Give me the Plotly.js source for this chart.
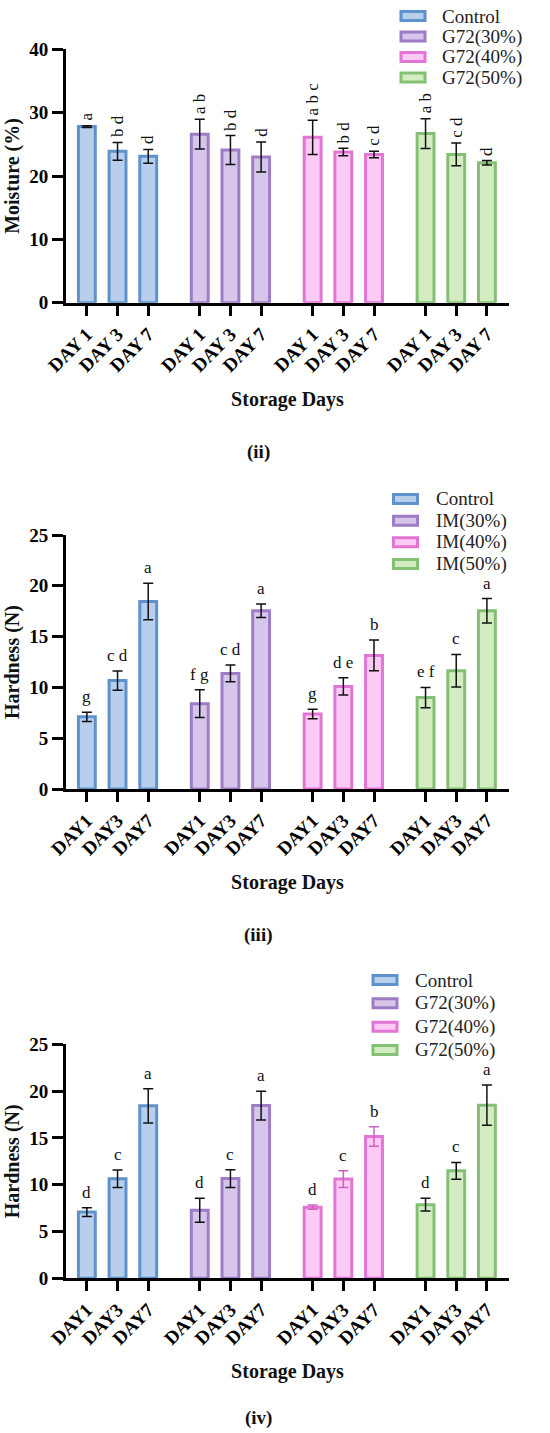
<!DOCTYPE html>
<html>
<head>
<meta charset="utf-8">
<script src="https://cdn.plot.ly/plotly-3.0.1.min.js"></script>
<style>html,body{margin:0;padding:0;background:#fff;}#chart{width:550px;height:1433px;}</style>
</head>
<body>
<div id="chart"></div>
<script>
// ---------- data ----------
const daysTop = ['DAY 1', 'DAY 3', 'DAY 7'];
const daysHard = ['DAY1', 'DAY3', 'DAY7'];

const groupsG72 = ['Control', 'G72(30%)', 'G72(40%)', 'G72(50%)'];
const groupsIM = ['Control', 'IM(30%)', 'IM(40%)', 'IM(50%)'];

// (ii) Moisture (%)
const moistMean = [[27.8, 23.9, 23.1], [26.6, 24.1, 23.0], [26.1, 23.8, 23.4], [26.7, 23.4, 22.1]];
const moistSD = [[0.15, 1.4, 1.1], [2.35, 2.3, 2.35], [2.7, 0.6, 0.5], [2.35, 1.8, 0.35]];
const moistLetters = [['a', 'b d', 'd'], ['a b', 'b d', 'd'], ['a b c', 'b d', 'c d'], ['a b', 'c d', 'd']];

// (iii) Hardness (N), IM
const hardIMMean = [[7.1, 10.67, 18.45], [8.4, 11.38, 17.55], [7.38, 10.1, 13.15], [9.0, 11.65, 17.55]];
const hardIMSD = [[0.45, 0.95, 1.8], [1.36, 0.82, 0.67], [0.46, 0.85, 1.52], [1.0, 1.6, 1.2]];
const hardIMLetters = [['g', 'c d', 'a'], ['f g', 'c d', 'a'], ['g', 'd e', 'b'], ['e f', 'c', 'a']];

// (iv) Hardness (N), G72
const hardGMean = [[7.07, 10.63, 18.43], [7.26, 10.65, 18.45], [7.6, 10.6, 15.15], [7.87, 11.48, 18.5]];
const hardGSD = [[0.48, 0.94, 1.83], [1.28, 0.96, 1.53], [0.23, 0.89, 1.05], [0.68, 0.9, 2.15]];
const hardGLetters = [['d', 'c', 'a'], ['d', 'c', 'a'], ['d', 'c', 'b'], ['d', 'c', 'a']];

// ---------- style ----------
const FONT = '"Liberation Serif", "Times New Roman", serif';
const fillColors = ['#b7cfec', '#d5c6ea', '#fdc9f5', '#d4ecc2'];
const lineColors = ['#5e92cc', '#9e7cc6', '#e176d4', '#84c073'];
const groupGap = 0.68;
const W = 550, H = 1433;

function pos(g, i) { return g * (3 + groupGap) + i; }
const tickPos = [];
for (let g = 0; g < 4; g++) for (let i = 0; i < 3; i++) tickPos.push(pos(g, i));

const traces = [];
const annotations = [];
const shapes = [];

function addPanel(k, groups, means, sds, letters, errColors, rotated) {
  const xa = k === 1 ? 'x' : 'x' + k;
  const ya = k === 1 ? 'y' : 'y' + k;
  for (let g = 0; g < 4; g++) {
    traces.push({
      type: 'bar',
      name: groups[g],
      x: [0, 1, 2].map(i => pos(g, i)),
      y: means[g],
      width: 0.55,
      xaxis: xa, yaxis: ya,
      showlegend: false,
      marker: { color: fillColors[g], line: { color: lineColors[g], width: 3 } },
      error_y: { type: 'data', array: sds[g], visible: true, color: errColors[g], thickness: 1.5, width: 5 },
      hoverinfo: 'skip'
    });
    for (let i = 0; i < 3; i++) {
      annotations.push({
        xref: xa, yref: ya, x: pos(g, i), y: means[g][i] + sds[g][i],
        text: letters[g][i], showarrow: false,
        textangle: rotated ? -90 : 0,
        xanchor: 'center', yanchor: 'bottom', yshift: rotated ? 3 : 4,
        font: { family: FONT, size: 17, color: '#111' }
      });
    }
  }
}

addPanel(1, groupsG72, moistMean, moistSD, moistLetters, ['#111', '#111', '#111', '#111'], true);
addPanel(2, groupsIM, hardIMMean, hardIMSD, hardIMLetters, ['#111', '#111', '#111', '#111'], false);
addPanel(3, groupsG72, hardGMean, hardGSD, hardGLetters, ['#111', '#111', '#d060c0', '#111'], false);

// legend (swatch + label) per panel
function addLegend(groups, swX0, swX1, textX, centers) {
  for (let g = 0; g < 4; g++) {
    const cy = centers[g];
    shapes.push({
      type: 'rect', xref: 'paper', yref: 'paper',
      x0: swX0 / W, x1: swX1 / W, y0: 1 - (cy + 4.5) / H, y1: 1 - (cy - 4.5) / H,
      fillcolor: fillColors[g], line: { color: lineColors[g], width: 3 }
    });
    annotations.push({
      xref: 'paper', yref: 'paper', x: textX / W, y: 1 - cy / H,
      text: groups[g], showarrow: false, xanchor: 'left', yanchor: 'middle',
      font: { family: FONT, size: 19, color: '#222' }
    });
  }
}
addLegend(groupsG72, 401, 425, 440, [16, 36.5, 57, 77.5]);
addLegend(groupsIM, 393.5, 417.5, 433.5, [499, 520.7, 542.3, 564]);
addLegend(groupsG72, 373, 397, 413, [980, 1003.3, 1026.7, 1050]);

function xAxis(anchor, ticktext) {
  return {
    anchor: anchor, domain: [66 / W, 509 / W],
    range: [-groupGap, pos(3, 2) + 0.72],
    tickvals: tickPos, ticktext: ticktext,
    tickangle: -45, ticks: 'outside', ticklen: 10, tickwidth: 3, tickcolor: '#000',
    showline: true, linewidth: 3, linecolor: '#000',
    showgrid: false, zeroline: false,
    tickfont: { family: FONT, size: 19, color: '#000', weight: 'bold' },
    title: { text: 'Storage Days', font: { family: FONT, size: 20, color: '#111', weight: 'bold' }, standoff: 17 }
  };
}
function yAxis(anchor, px0, pxTop, range, dtick, title) {
  return {
    anchor: anchor, domain: [1 - px0 / H, 1 - pxTop / H],
    range: range, dtick: dtick, tick0: 0,
    ticks: 'outside', ticklen: 11, tickwidth: 3, tickcolor: '#000',
    showline: true, linewidth: 3, linecolor: '#000',
    showgrid: false, zeroline: false,
    tickfont: { family: FONT, size: 19, color: '#000', weight: 'bold' },
    title: { text: title, font: { family: FONT, size: 20, color: '#111', weight: 'bold' }, standoff: 5 }
  };
}

const panelLabels = [['(ii)', 452], ['(iii)', 935], ['(iv)', 1418]];
panelLabels.forEach(p => annotations.push({
  xref: 'paper', yref: 'paper', x: 258 / W, y: 1 - p[1] / H,
  text: p[0], showarrow: false, xanchor: 'center', yanchor: 'middle',
  font: { family: FONT, size: 19, color: '#111', weight: 'bold' }
}));

const layout = {
  width: W, height: H,
  margin: { l: 0, r: 0, t: 0, b: 0 },
  paper_bgcolor: '#fff', plot_bgcolor: 'rgba(0,0,0,0)',
  barmode: 'overlay',
  showlegend: false,
  font: { family: FONT, color: '#111' },
  xaxis: xAxis('y', daysTop.concat(daysTop, daysTop, daysTop)),
  yaxis: yAxis('x', 302.7, 49.3, [0, 40], 10, 'Moisture (%)'),
  xaxis2: xAxis('y2', daysHard.concat(daysHard, daysHard, daysHard)),
  yaxis2: yAxis('x2', 789, 535, [0, 25], 5, 'Hardness (N)'),
  xaxis3: xAxis('y3', daysHard.concat(daysHard, daysHard, daysHard)),
  yaxis3: yAxis('x3', 1278.3, 1044.3, [0, 25], 5, 'Hardness (N)'),
  annotations: annotations,
  shapes: shapes
};

Plotly.newPlot('chart', traces, layout, { staticPlot: true, displayModeBar: false });
</script>
</body>
</html>
